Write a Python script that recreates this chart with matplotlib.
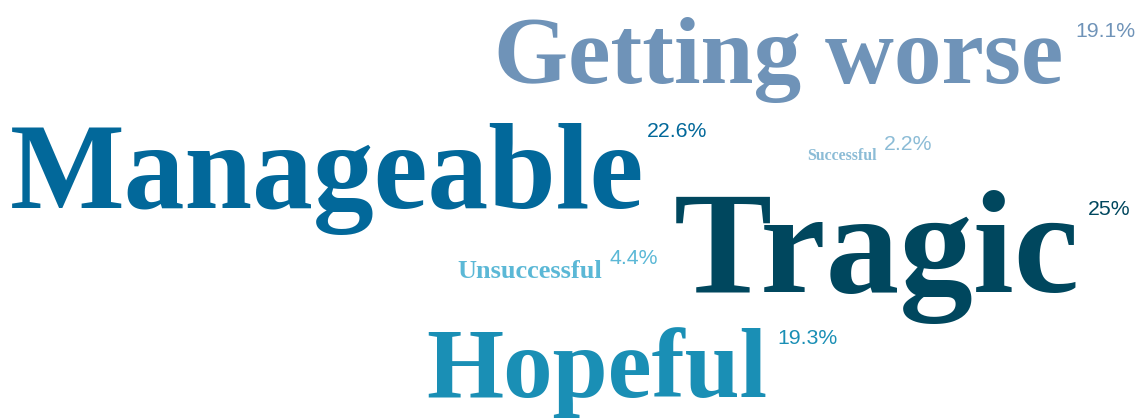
import matplotlib
matplotlib.use("Agg")
import matplotlib.pyplot as plt

# Data
words = ["Getting worse", "Manageable", "Successful", "Tragic", "Unsuccessful", "Hopeful"]
shares = [19.1, 22.6, 2.2, 25.0, 4.4, 19.3]
labels = ["19.1%", "22.6%", "2.2%", "25%", "4.4%", "19.3%"]

# Layout (pixel coordinates of the word cloud) and styles
word_x = [494, 10, 807, 674, 457, 426]
word_base = [83, 208, 160, 292, 278, 397]
word_size = [68.7, 87.5, 11.4, 106, 19, 71.3]
label_x = [1075, 647, 884, 1088, 610, 777]
label_top = [22, 122, 135, 200, 249, 329]
colors = ["#6f93b8", "#02689a", "#8cbcd6", "#00475e", "#5bb8d6", "#1a8fb5"]

W, H = 1140, 419
fig = plt.figure(figsize=(W / 100, H / 100), dpi=100)
ax = fig.add_axes([0, 0, 1, 1])
ax.set_xlim(0, W)
ax.set_ylim(H, 0)
ax.axis("off")

for w, v, lab, x, yb, fs, lx, lt, c in zip(words, shares, labels, word_x, word_base,
                                           word_size, label_x, label_top, colors):
    ax.text(x, yb, w, fontsize=fs, family="Liberation Serif", fontweight="bold",
            color=c, ha="left", va="baseline")
    ax.text(lx, lt, lab, fontsize=15.3, family="Liberation Sans", color=c,
            ha="left", va="top")

fig.savefig("out.png", dpi=100)
